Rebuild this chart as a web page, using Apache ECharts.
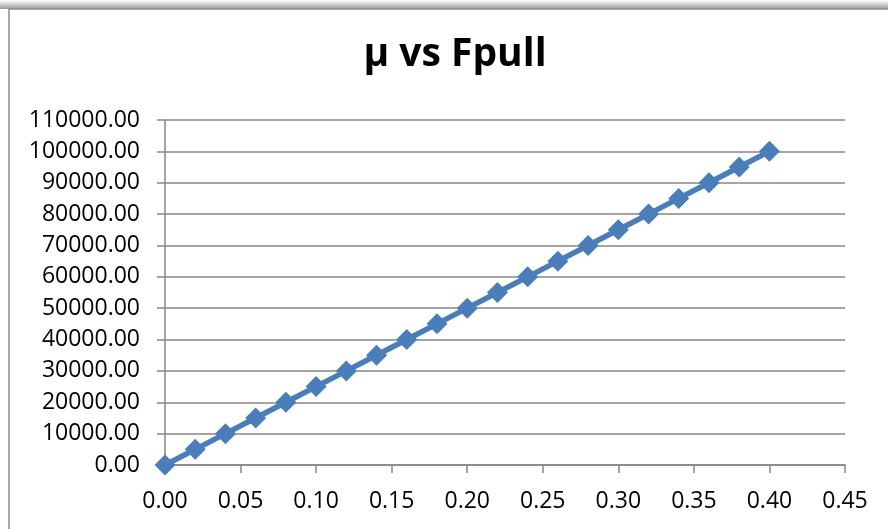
<!DOCTYPE html>
<html><head><meta charset="utf-8">
<script src="https://cdn.jsdelivr.net/npm/echarts@6/dist/echarts.min.js"></script>
<style>html,body{margin:0;padding:0;background:#fff}#c{width:888px;height:529px}</style>
</head><body><div id="c"></div>
<script>
const muValues = [0.00,0.02,0.04,0.06,0.08,0.10,0.12,0.14,0.16,0.18,0.20,0.22,0.24,0.26,0.28,0.30,0.32,0.34,0.36,0.38,0.40];
const fpullValues = [0,5000,10000,15000,20000,25000,30000,35000,40000,45000,50000,55000,60000,65000,70000,75000,80000,85000,90000,95000,100000];
const titleText = 'μ vs Fpull';
const chart = echarts.init(document.getElementById('c'));
const font = "'Open Sans', 'Liberation Sans', sans-serif";
chart.setOption({
  animation:false,
  backgroundColor:'#fff',
  graphic:[
    {type:'rect',shape:{x:0,y:0,width:888,height:9},style:{fill:new echarts.graphic.LinearGradient(0,0,0,1,[{offset:0,color:'#ffffff'},{offset:1,color:'#9a9a9a'}])},z:-1},
    {type:'rect',shape:{x:9,y:9,width:900,height:540},style:{fill:'#fff',stroke:'#8c8c8c',lineWidth:1.5},z:-1}
  ],
  title:{text:titleText,left:450,top:30,textAlign:'center',textStyle:{fontFamily:font,fontWeight:'bold',fontSize:39,color:'#000'}},
  grid:{left:165,right:43,top:120,bottom:64},
  xAxis:{type:'value',min:0,max:0.45,interval:0.05,
    axisLine:{show:true,lineStyle:{color:'#868686',width:1.5}},
    axisTick:{show:true,length:8,lineStyle:{color:'#868686',width:1.5}},
    splitLine:{show:false},
    axisLabel:{formatter:v=>v.toFixed(2),fontFamily:font,fontSize:23,color:'#000',margin:25}},
  yAxis:{type:'value',min:0,max:110000,interval:10000,
    axisLine:{show:true,lineStyle:{color:'#868686',width:1.5}},
    axisTick:{show:true,length:8,lineStyle:{color:'#868686',width:1.5}},
    splitLine:{show:true,lineStyle:{color:'#868686',width:1.5}},
    axisLabel:{formatter:v=>v.toFixed(2),fontFamily:font,fontSize:23,color:'#000',margin:25}},
  series:[{type:'line',data:muValues.map((x,i)=>[x,fpullValues[i]]),
    symbol:'diamond',symbolSize:21,showAllSymbol:true,
    lineStyle:{color:'#4a7ebb',width:5.5},
    itemStyle:{color:'#4a7ebb'}}]
});
</script></body></html>
